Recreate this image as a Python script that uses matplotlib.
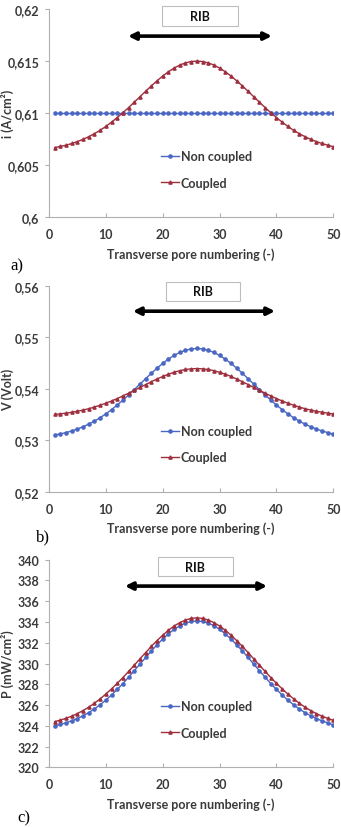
import matplotlib
matplotlib.use("Agg")
import matplotlib.pyplot as plt
from matplotlib.ticker import FuncFormatter, FixedLocator
from matplotlib.patches import Rectangle

# ---------------- data ----------------
pore = list(range(1, 51))

i_non = [0.61] * 50
i_cpl = [0.60670, 0.60681, 0.60693, 0.60709, 0.60728, 0.60749, 0.60775, 0.60804, 0.60836, 0.60873,
         0.60914, 0.60958, 0.61005, 0.61054, 0.61106, 0.61158, 0.61211, 0.61262, 0.61311, 0.61357,
         0.61398, 0.61433, 0.61462, 0.61483, 0.61496, 0.61500, 0.61496, 0.61483, 0.61462, 0.61433,
         0.61398, 0.61357, 0.61311, 0.61262, 0.61211, 0.61158, 0.61106, 0.61054, 0.61005, 0.60958,
         0.60914, 0.60873, 0.60836, 0.60804, 0.60775, 0.60749, 0.60728, 0.60709, 0.60693, 0.60678]

v_non = [0.53100, 0.53122, 0.53148, 0.53179, 0.53217, 0.53261, 0.53312, 0.53371, 0.53437, 0.53511,
         0.53593, 0.53682, 0.53778, 0.53878, 0.53983, 0.54089, 0.54195, 0.54299, 0.54398, 0.54491,
         0.54574, 0.54645, 0.54703, 0.54745, 0.54771, 0.54780, 0.54771, 0.54745, 0.54703, 0.54645,
         0.54574, 0.54491, 0.54398, 0.54299, 0.54195, 0.54089, 0.53983, 0.53878, 0.53778, 0.53682,
         0.53593, 0.53511, 0.53437, 0.53371, 0.53312, 0.53261, 0.53217, 0.53179, 0.53148, 0.53115]
v_cpl = [0.53500, 0.53511, 0.53525, 0.53542, 0.53562, 0.53585, 0.53612, 0.53643, 0.53679, 0.53718,
         0.53761, 0.53808, 0.53859, 0.53912, 0.53968, 0.54024, 0.54080, 0.54135, 0.54188, 0.54237,
         0.54281, 0.54318, 0.54349, 0.54372, 0.54385, 0.54390, 0.54385, 0.54372, 0.54349, 0.54318,
         0.54281, 0.54237, 0.54188, 0.54135, 0.54080, 0.54024, 0.53968, 0.53912, 0.53859, 0.53808,
         0.53761, 0.53718, 0.53679, 0.53643, 0.53612, 0.53585, 0.53562, 0.53542, 0.53525, 0.53508]

p_non = [324.00, 324.13, 324.29, 324.48, 324.70, 324.97, 325.27, 325.63, 326.03, 326.47,
         326.97, 327.50, 328.07, 328.68, 329.31, 329.94, 330.58, 331.21, 331.80, 332.36,
         332.86, 333.29, 333.64, 333.89, 334.05, 334.10, 334.05, 333.89, 333.64, 333.29,
         332.86, 332.36, 331.80, 331.21, 330.58, 329.94, 329.31, 328.68, 328.07, 327.50,
         326.97, 326.47, 326.03, 325.63, 325.27, 324.97, 324.70, 324.48, 324.29, 324.08]
p_cpl = [324.40, 324.55, 324.72, 324.93, 325.18, 325.47, 325.80, 326.18, 326.60, 327.06,
         327.56, 328.09, 328.65, 329.24, 329.84, 330.45, 331.06, 331.65, 332.21, 332.73,
         333.20, 333.61, 333.94, 334.19, 334.35, 334.40, 334.35, 334.19, 333.94, 333.61,
         333.20, 332.73, 332.21, 331.65, 331.06, 330.45, 329.84, 329.24, 328.65, 328.09,
         327.56, 327.06, 326.60, 326.18, 325.80, 325.47, 325.18, 324.93, 324.72, 324.52]

x_ticks = [0, 10, 20, 30, 40, 50]
yticks_i = [0.6, 0.605, 0.61, 0.615, 0.62]
yticks_v = [0.52, 0.53, 0.54, 0.55, 0.56]
yticks_p = [320, 322, 324, 326, 328, 330, 332, 334, 336, 338, 340]

series_labels = ["Non coupled", "Coupled"]
ylabels = ["i (A/cm²)", "V (Volt)", "P (mW/cm²)"]
xlabel = "Transverse pore numbering (-)"
panel_tags = ["a)", "b)", "c)"]
rib_label = "RIB"

# ---------------- style ----------------
BLUE = "#4a67c4"
RED = "#9e2f3e"
TXT = "#3a3a3a"
SPINE = "#b0b0b0"
FONT = ["Lato", "DejaVu Sans"]
FS = 9

fig = plt.figure(figsize=(3.41, 8.28), dpi=100)

panels = [
    dict(rect=[0.1437, 0.7363, 0.8338, 0.2516], non=i_non, cpl=i_cpl, yt=yticks_i,
         box=(0.397, 0.918, 0.268, 0.096), arr=(0.278, 0.784, 0.870),
         tag=(0.03, 1 - 266 / 828)),
    dict(rect=[0.1437, 0.4050, 0.8338, 0.2488], non=v_non, cpl=v_cpl, yt=yticks_v,
         box=(0.4115, 0.926, 0.26, 0.092), arr=(0.295, 0.795, 0.876),
         tag=(0.105, 1 - 537 / 828)),
    dict(rect=[0.1437, 0.0721, 0.8338, 0.2507], non=p_non, cpl=p_cpl, yt=yticks_p,
         box=(0.383, 0.921, 0.264, 0.092), arr=(0.267, 0.767, 0.873),
         tag=(0.05, 1 - 818 / 828)),
]

def comma(v, pos):
    s = f"{v:g}"
    return s.replace(".", ",")

for k, p in enumerate(panels):
    ax = fig.add_axes(p["rect"])
    ax.plot(pore, p["non"], color=BLUE, lw=1.0, marker="o", ms=2.3,
            mfc=BLUE, mec=BLUE, label=series_labels[0])
    ax.plot(pore, p["cpl"], color=RED, lw=1.0, marker="^", ms=2.3,
            mfc=RED, mec=RED, label=series_labels[1])
    ax.set_xlim(0, 50)
    ax.set_ylim(p["yt"][0], p["yt"][-1])
    ax.xaxis.set_major_locator(FixedLocator(x_ticks))
    ax.yaxis.set_major_locator(FixedLocator(p["yt"]))
    ax.yaxis.set_major_formatter(FuncFormatter(comma))
    for s in ("top", "right"):
        ax.spines[s].set_visible(False)
    for s in ("left", "bottom"):
        ax.spines[s].set_color(SPINE)
        ax.spines[s].set_linewidth(0.8)
    ax.tick_params(axis="x", direction="in", length=3, color=SPINE, pad=8)
    ax.tick_params(axis="y", direction="out", length=3, color=SPINE, pad=4)
    for lab in ax.get_xticklabels() + ax.get_yticklabels():
        lab.set_fontfamily(FONT)
        lab.set_fontweight("bold")
        lab.set_fontsize(FS)
        lab.set_color(TXT)
    ax.set_xlabel(xlabel, fontsize=FS, fontweight="bold", color=TXT, family=FONT)
    ax.xaxis.set_label_coords(0.5, -0.145)
    ax.set_ylabel(ylabels[k], fontsize=FS, fontweight="bold", color=TXT, family=FONT)
    ax.yaxis.set_label_coords(-0.122, 0.5)

    leg = ax.legend(loc="center left", bbox_to_anchor=(0.355, 0.23), frameon=False,
                    handlelength=1.4, handletextpad=0.15, labelspacing=1.15,
                    prop=dict(family=FONT, weight="bold", size=FS))
    for t in leg.get_texts():
        t.set_color(TXT)

    bx, by, bw, bh = p["box"]
    ax.add_patch(Rectangle((bx, by), bw, bh, transform=ax.transAxes, facecolor="white",
                           edgecolor="#bdbdbd", lw=0.8, clip_on=False, zorder=5))
    ax.text(bx + bw / 2, by + bh / 2, rib_label, transform=ax.transAxes, ha="center",
            va="center", fontsize=FS, fontweight="bold", family=FONT, color="#111111", zorder=6)

    x0, x1, ya = p["arr"]
    ax.annotate("", xy=(x1, ya), xytext=(x0, ya), xycoords="axes fraction",
                arrowprops=dict(arrowstyle="<|-|>", lw=2.6, color="black",
                                mutation_scale=11, shrinkA=0, shrinkB=0))

    fig.text(p["tag"][0], p["tag"][1], panel_tags[k], fontsize=12,
             family=["Liberation Serif", "DejaVu Serif"], va="center", ha="left")

fig.savefig("out.png", dpi=100)
